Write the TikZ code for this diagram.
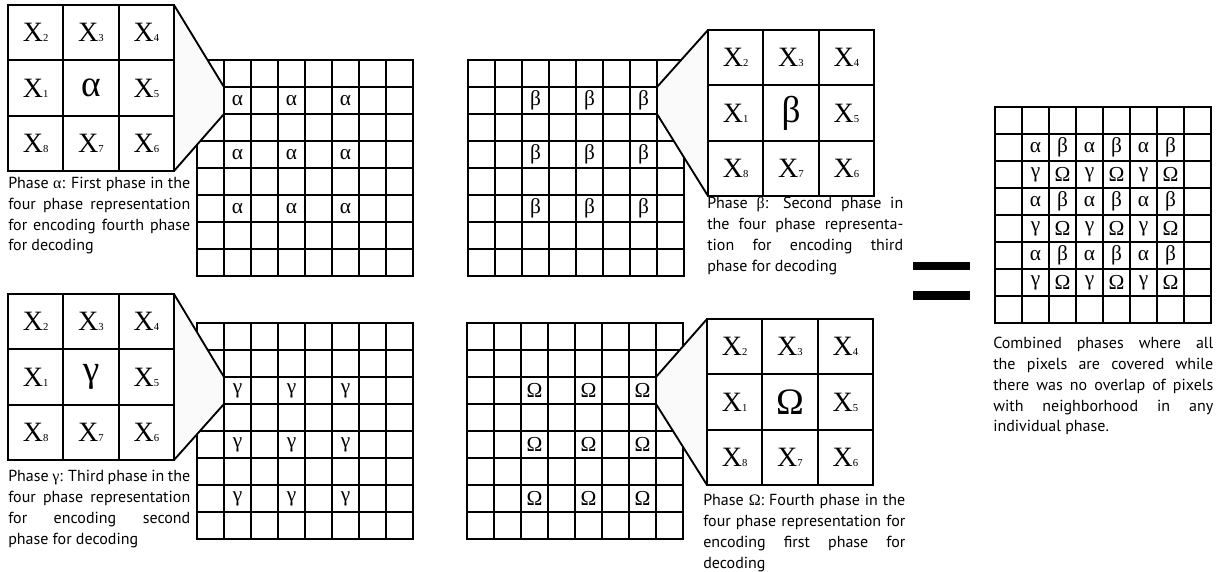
\documentclass[tikz,border=0pt]{standalone}
\usepackage{fontspec}
\setmainfont{PT Sans}
\newfontfamily\grk{Liberation Serif}
\newcommand\xcell[1]{{\grk\fontsize{21}{21}\selectfont X\fontsize{8}{8}\selectfont #1}}
\tikzset{
  pixline/.style={line width=1.4pt, line cap=rect},
  lens/.style={fill=gray!4, line width=1.4pt, line join=round},
  smallgr/.style={font=\grk\fontsize{16}{16}\selectfont, inner sep=0pt},
  biggr/.style={font=\grk\fontsize{28}{28}\selectfont, inner sep=0pt},
  phasetext/.style={anchor=north west, inner sep=0pt, align=justify, font=\fontsize{12}{15.6}\selectfont}
}
\begin{document}
\begin{tikzpicture}[x=0.75pt, y=-0.75pt]
		\useasboundingbox (0,0) rectangle (1219,571);
		%8x8 pixel grids
		\foreach \gx/\gy in {197/60,468/60,197/323,467/323,995/107}
		\foreach \i in {0,...,8}{
			\draw[pixline] (\gx+\i*27,\gy) -- (\gx+\i*27,\gy+216);
			\draw[pixline] (\gx,\gy+\i*27) -- (\gx+216,\gy+\i*27);
		}
		%Phase pixels in each grid
		\foreach \c in {1,3,5}
		\foreach \r in {1,3,5}
		\node[smallgr] (pa\c\r) at (197+\c*27+13.5,60+\r*27+13.5) {α};
		\foreach \c in {2,4,6}
		\foreach \r in {1,3,5}
		\node[smallgr] (pb\c\r) at (468+\c*27+13.5,60+\r*27+13.5) {β};
		\foreach \c in {1,3,5}
		\foreach \r in {2,4,6}
		\node[smallgr] (pc\c\r) at (197+\c*27+13.5,323+\r*27+13.5) {γ};
		\foreach \c in {2,4,6}
		\foreach \r in {2,4,6}
		\node[smallgr] (pd\c\r) at (467+\c*27+13.5,323+\r*27+13.5) {Ω};
		%Combined grid
		\foreach \c/\l in {1/α,2/β,3/α,4/β,5/α,6/β}
		\foreach \r in {1,3,5}
		\node[smallgr] (pe\c\r) at (995+\c*27+13.5,107+\r*27+13.5) {\l};
		\foreach \c/\l in {1/γ,2/Ω,3/γ,4/Ω,5/γ,6/Ω}
		\foreach \r in {2,4,6}
		\node[smallgr] (pe\c\r) at (995+\c*27+13.5,107+\r*27+13.5) {\l};
		%Magnifier lenses
		\coordinate (la1) at (174,5);   \coordinate (la2) at (224,87);
		\coordinate (la3) at (224,114); \coordinate (la4) at (174,171);
		\coordinate (lb1) at (708,30);  \coordinate (lb2) at (657,87);
		\coordinate (lb3) at (657,114); \coordinate (lb4) at (708,196);
		\coordinate (lc1) at (174,294); \coordinate (lc2) at (224,377);
		\coordinate (lc3) at (224,404); \coordinate (lc4) at (174,460);
		\coordinate (ld1) at (707,319); \coordinate (ld2) at (656,377);
		\coordinate (ld3) at (656,404); \coordinate (ld4) at (707,485);
		\foreach \l in {la,lb,lc,ld}
		\draw[lens] (\l1) -- (\l2) -- (\l3) -- (\l4) -- cycle;
		%3x3 neighbourhoods
		\foreach \bx/\by/\ctr/\bn in {8/5/α/ma,708/30/β/mb,8/294/γ/mc,707/319/Ω/md}{
			\draw[pixline] (\bx,\by) rectangle (\bx+166,\by+166);
			\foreach \i in {1,2}{
				\draw[pixline] (\bx+\i*55.33,\by) -- (\bx+\i*55.33,\by+166);
				\draw[pixline] (\bx,\by+\i*55.33) -- (\bx+166,\by+\i*55.33);
			}
			\node[biggr] (\bn-c) at (\bx+83,\by+83) {\ctr};
			\foreach \k/\c/\r in {2/0/0,3/1/0,4/2/0,1/0/1,5/2/1,8/0/2,7/1/2,6/2/2}
			\node[inner sep=0pt] (\bn-\k) at (\bx+27.67+\c*55.33,\by+27.67+\r*55.33) {\xcell{\k}};
		}
		%Equals sign
		\fill (913,262) rectangle (970,270);
		\fill (913,291) rectangle (970,300);
		%Captions
		\node[phasetext, text width=136.5pt] (ta) at (8,177) {Phase {\grk α}: First phase in the\linebreak four phase representation\linebreak for encoding fourth phase\linebreak for decoding};
		\node[phasetext, text width=147pt] (tb) at (707,197) {Phase {\grk β}: Second phase in\linebreak the four phase representa-\linebreak tion for encoding third\linebreak phase for decoding};
		\node[phasetext, text width=136.5pt] (tc) at (8,470) {Phase {\grk γ}: Third phase in the\linebreak four phase representation\linebreak for encoding second\linebreak phase for decoding};
		\node[phasetext, text width=151.5pt] (td) at (703,494) {Phase {\grk Ω}: Fourth phase in the\linebreak four phase representation for\linebreak encoding first phase for\linebreak decoding};
		\node[phasetext, text width=165pt] (te) at (993,337) {Combined phases where all\linebreak the pixels are covered while\linebreak there was no overlap of pixels\linebreak with neighborhood in any\linebreak individual phase.};
\end{tikzpicture}
\end{document}
